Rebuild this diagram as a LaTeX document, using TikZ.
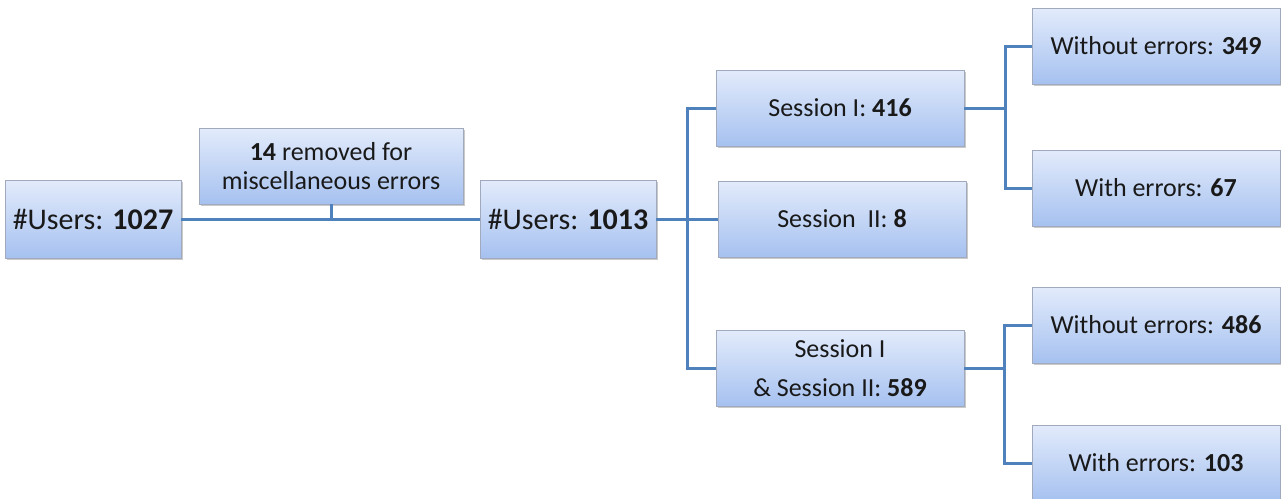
\documentclass[tikz,border=0pt]{standalone}
\usepackage{fontspec}
\setmainfont{Carlito}
\usetikzlibrary{positioning,shadows}

\definecolor{linkblue}{RGB}{79,129,189}
\definecolor{boxtop}{RGB}{226,235,251}
\definecolor{boxbottom}{RGB}{166,193,240}
\definecolor{boxedge}{RGB}{160,170,188}

\begin{document}
\begin{tikzpicture}[
  x=1pt, y=-1pt,
  % Shared box style; size set per node
  box/.style={
    draw=boxedge, line width=0.6pt, align=center,
    top color=boxtop, bottom color=boxbottom,
    minimum width=248pt, minimum height=76pt, inner sep=2pt,
    text=black!90, font=\fontsize{26}{31}\selectfont,
    drop shadow={shadow xshift=1.5pt, shadow yshift=-2pt,
                 opacity=0.35, fill=black!60}
  },
  total/.style={box, minimum width=176pt, minimum height=78pt,
    font=\fontsize{30}{36}\selectfont},
  link/.style={draw=linkblue, line width=3pt},
]

% Canvas size
\useasboundingbox (0,0) rectangle (1281,498);

% ---------------------------------------------------------------
% Filtering step
% ---------------------------------------------------------------
\node[total] (all) at (93,219) {\#Users: \textbf{1027}};
\node[box, minimum width=264pt, minimum height=76pt,
      font=\fontsize{26}{29}\selectfont] (removed) at (331,166)
  {\textbf{14} removed for\\ miscellaneous errors};
\node[total] (kept) at (568,219) {\#Users: \textbf{1013}};

\draw[link] (all.east) -- (kept.west);
\draw[link] (removed.south) -- (removed.south |- all.east);

% ---------------------------------------------------------------
% Sessions
% ---------------------------------------------------------------
\node[box] (sone) at (840,108) {Session I: \textbf{416}};
\node[box] (stwo) at (842,219) {Session\ \ II: \textbf{8}};
\node[box, font=\fontsize{26}{39}\selectfont] (sboth) at (840,368)
  {Session I\\ \& Session II: \textbf{589}};

\draw[link] (kept.east) -- ++(31,0) coordinate (jkept);
\draw[link] (kept.east) -- (stwo.west);
\draw[link] (sone.west) -| (jkept);
\draw[link] (sboth.west) -| (jkept);

% ---------------------------------------------------------------
% Error split
% ---------------------------------------------------------------
\node[box] (woone) at (1156,46) {Without errors: \textbf{349}};
\node[box] (wone) at (1156,188) {With errors: \textbf{67}};
\node[box] (wotwo) at (1156,325) {Without errors: \textbf{486}};
\node[box] (wtwo) at (1156,463) {With errors: \textbf{103}};

\draw[link] (sone.east) -- ++(41,0) coordinate (jone);
\draw[link] (woone.west) -| (jone);
\draw[link] (wone.west) -| (jone);

\draw[link] (sboth.east) -- ++(40,0) coordinate (jboth);
\draw[link] (wotwo.west) -| (jboth);
\draw[link] (wtwo.west) -| (jboth);

\end{tikzpicture}
\end{document}
